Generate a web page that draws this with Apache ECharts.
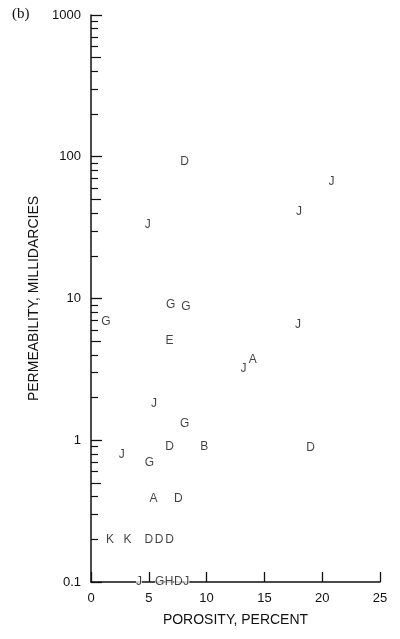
<!DOCTYPE html>
<html>
<head>
<meta charset="utf-8">
<script src="https://cdn.jsdelivr.net/npm/echarts@6/dist/echarts.min.js"></script>
<style>
  html, body { margin: 0; padding: 0; background: #fff; }
  #chart { width: 400px; height: 639px; }
</style>
</head>
<body>
<div id="chart"></div>
<script>
// ---- data ----
const letters = ['D','J','J','J','G','G','G','J','E','A','J','J','G','D','B','D','J','G','A','D','K','K','D','D','D','J','G','H','D','J'];
const porosity = [8.1,20.8,18.0,4.9,1.3,6.9,8.2,17.9,6.8,14.0,13.2,5.45,8.1,6.8,9.8,19.0,2.65,5.05,5.4,7.55,1.65,3.15,5.0,5.9,6.8,4.15,5.95,6.75,7.55,8.25];
const permeability = [93,67,41,33,6.9,9.1,8.8,6.5,5.0,3.7,3.2,1.82,1.3,0.9,0.9,0.89,0.79,0.69,0.39,0.39,0.2,0.2,0.2,0.2,0.2,0.1,0.1,0.1,0.1,0.1];

const xTicks = [0, 5, 10, 15, 20, 25];
const yMajorTicks = [0.1, 1, 10, 100, 1000];
const yFiveTicks = [0.5, 5, 50, 500];
const yMinorTicks = [0.2,0.3,0.4,0.6,0.7,0.8,0.9, 2,3,4,6,7,8,9, 20,30,40,60,70,80,90, 200,300,400,600,700,800,900];

const xTitle = 'POROSITY, PERCENT';
const yTitle = 'PERMEABILITY, MILLIDARCIES';
const panelLabel = '(b)';

// ---- build chart ----
const yMin = 0.1, yMax = 1000;
const labelFont = 'Liberation Sans';
const points = letters.map((l, i) => {
  const item = { value: [porosity[i], permeability[i], l] };
  if (permeability[i] === yMin) {
    item.label = { backgroundColor: '#fff', padding: [1, 0, 1, 0] };
  }
  return item;
});

const chart = echarts.init(document.getElementById('chart'));
const baseY = {
  type: 'log', logBase: 10, min: yMin, max: yMax, position: 'left',
  splitLine: { show: false }, axisLabel: { show: false },
  axisLine: { show: false }
};
chart.setOption({
  animation: false,
  backgroundColor: '#fff',
  grid: { left: 91, right: 20, top: 15, bottom: 57, containLabel: false },
  graphic: [{
    type: 'text', left: 12, top: 7,
    style: { text: panelLabel, font: '15px "Liberation Serif"', fill: '#111' }
  }],
  xAxis: {
    type: 'value', min: 0, max: 25, interval: 5,
    axisLine: { show: true, lineStyle: { color: '#111', width: 1.5 } },
    axisTick: { show: true, inside: true, length: 10, lineStyle: { color: '#111', width: 1.3 } },
    axisLabel: { color: '#111', fontSize: 13, fontFamily: labelFont, margin: 10,
      customValues: xTicks },
    splitLine: { show: false },
    name: xTitle, nameLocation: 'middle', nameGap: 31,
    nameTextStyle: { color: '#111', fontSize: 14, fontFamily: labelFont }
  },
  yAxis: [
    Object.assign({}, baseY, {
      axisLine: { show: true, lineStyle: { color: '#111', width: 1.5 } },
      axisTick: { show: true, inside: true, length: 11, customValues: yMajorTicks,
        lineStyle: { color: '#111', width: 1.3 } },
      axisLabel: { show: true, color: '#111', fontSize: 13, fontFamily: labelFont, margin: 10,
        customValues: yMajorTicks, formatter: v => String(v) },
      name: yTitle, nameLocation: 'middle', nameGap: 40,
      nameTextStyle: { color: '#111', fontSize: 14, fontFamily: labelFont }
    }),
    Object.assign({}, baseY, {
      axisTick: { show: true, inside: true, length: 10, customValues: yFiveTicks,
        lineStyle: { color: '#111', width: 1.2 } }
    }),
    Object.assign({}, baseY, {
      axisTick: { show: true, inside: true, length: 7, customValues: yMinorTicks,
        lineStyle: { color: '#111', width: 1.2 } }
    })
  ],
  series: [{
    type: 'scatter',
    data: points,
    symbol: 'circle', symbolSize: 1,
    itemStyle: { color: 'rgba(0,0,0,0)' },
    clip: false,
    z: 10,
    label: {
      show: true, position: 'inside',
      formatter: p => p.value[2],
      color: '#111', fontSize: 12, fontFamily: labelFont
    }
  }]
});
</script>
</body>
</html>
